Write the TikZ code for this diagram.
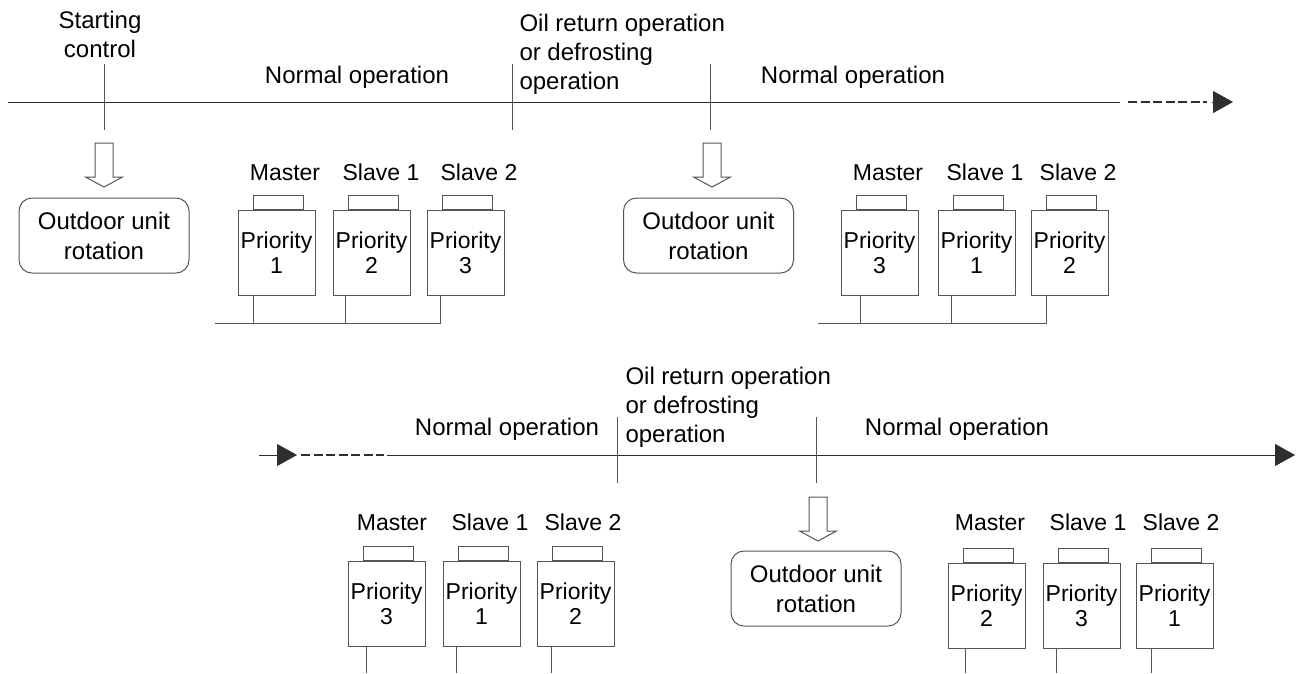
\documentclass[tikz,border=0pt]{standalone}
\usepackage{fontspec}
\setmainfont{Liberation Sans}
\usetikzlibrary{arrows.meta, positioning}
\definecolor{cline}{HTML}{2E2E2E}
\definecolor{cgrey}{HTML}{555555}
\tikzset{
  every picture/.style={line width=1pt},
  unitbox/.style={draw=cgrey, minimum width=77pt, minimum height=85pt, inner sep=0pt, align=center, font=\fontsize{23}{25}\selectfont},
  lid/.style={draw=cgrey, minimum width=50pt, minimum height=14pt, inner sep=0pt},
  ulabel/.style={anchor=base, inner sep=0pt, font=\fontsize{23}{27}\selectfont},
  rotbox/.style={draw=cgrey, rounded corners=13pt, minimum width=170pt, minimum height=75pt, inner sep=0pt, align=center, font=\fontsize{24}{30}\selectfont},
  phasetext/.style={inner sep=0pt, font=\fontsize{24}{29}\selectfont},
  headline/.style={-{Triangle[length=20pt, width=22pt]}, draw=cline},
  dashline/.style={draw=cline, line width=1.5pt, dash pattern=on 9pt off 3.5pt},
  hollowarrow/.style={draw=cgrey, fill=white, line join=miter},
}

\begin{document}
\begin{tikzpicture}[x=1pt, y=-1pt]
  \useasboundingbox (0,0) rectangle (1297,673);

  % phase texts
  \node[phasetext, align=center, anchor=south] (start) at (100,58) {Starting\\control};
  \node[phasetext, anchor=base] (norm1) at (357,83) {Normal operation};
  \node[phasetext, align=left, anchor=south west] (oil1) at (519,95) {Oil return operation\\or defrosting\\operation};
  \node[phasetext, anchor=base] (norm2) at (853,83) {Normal operation};
  \node[phasetext, anchor=base] (norm3) at (507,435) {Normal operation};
  \node[phasetext, align=left, anchor=south west] (oil2) at (625,448) {Oil return operation\\or defrosting\\operation};
  \node[phasetext, anchor=base] (norm4) at (957,435) {Normal operation};

  % upper time line
  \coordinate (ta) at (8,102);
  \coordinate (tb) at (1120,102);
  \coordinate (tc) at (1128,102);
  \coordinate (td) at (1207,102);
  \coordinate (te) at (1212,102);
  \coordinate (tf) at (1233,102);
  \draw[cline] (ta) -- (tb);
  \draw[dashline] (tc) -- (td);
  \draw[headline] (te) -- (tf);
  \coordinate (k1) at (104,64);
  \coordinate (k2) at (512,64);
  \coordinate (k3) at (710,64);
  \draw[cgrey] (k1) -- ++(0,66);
  \draw[cgrey] (k2) -- ++(0,66);
  \draw[cgrey] (k3) -- ++(0,66);

  % lower time line
  \coordinate (ba) at (259,455);
  \coordinate (bb) at (297,455);
  \coordinate (bc) at (301,455);
  \coordinate (bd) at (384,455);
  \coordinate (be) at (387,455);
  \coordinate (bf) at (1295,455);
  \draw[headline] (ba) -- (bb);
  \draw[dashline] (bc) -- (bd);
  \draw[headline] (be) -- (bf);
  \coordinate (k4) at (617,417);
  \coordinate (k5) at (816,417);
  \draw[cgrey] (k4) -- ++(0,66);
  \draw[cgrey] (k5) -- ++(0,66);

  % rotation steps
  \coordinate (h1) at (104,143);
  \coordinate (h2) at (712,143);
  \coordinate (h3) at (818,497);
  \draw[hollowarrow] (h1) ++(-9,0) -- ++(0,34) -- ++(-9.5,0) -- ++(18.5,10) -- ++(18.5,-10) -- ++(-9.5,0) -- ++(0,-34) -- cycle;
  \draw[hollowarrow] (h2) ++(-9,0) -- ++(0,34) -- ++(-9.5,0) -- ++(18.5,10) -- ++(18.5,-10) -- ++(-9.5,0) -- ++(0,-34) -- cycle;
  \draw[hollowarrow] (h3) ++(-9,0) -- ++(0,34) -- ++(-9.5,0) -- ++(18.5,10) -- ++(18.5,-10) -- ++(-9.5,0) -- ++(0,-34) -- cycle;
  \node[rotbox] (rot1) at (104,235.5) {Outdoor unit\\rotation};
  \node[rotbox] (rot2) at (708.5,235.5) {Outdoor unit\\rotation};
  \node[rotbox] (rot3) at (816,588.5) {Outdoor unit\\rotation};

  % units, first normal operation
  \node[unitbox] (a1) at (276.5,252.5) {Priority\\1};
  \node[unitbox] (a2) at (371.5,252.5) {Priority\\2};
  \node[unitbox] (a3) at (465.5,252.5) {Priority\\3};
  \node[lid, above=0pt of a1, xshift=1.5pt] (a1l) {};
  \node[lid, above=0pt of a2, xshift=1.5pt] (a2l) {};
  \node[lid, above=0pt of a3, xshift=1.5pt] (a3l) {};
  \node[ulabel] (a1t) at (285,180) {Master};
  \node[ulabel] (a2t) at (381,180) {Slave 1};
  \node[ulabel] (a3t) at (479,180) {Slave 2};
  \coordinate (busA) at (215,323);
  \coordinate (sa1) at ([xshift=16pt]a1.south west);
  \coordinate (sa2) at ([xshift=13pt]a2.south west);
  \coordinate (sa3) at ([xshift=14pt]a3.south west);
  \draw[cgrey] (sa1) -- (sa1 |- busA);
  \draw[cgrey] (sa2) -- (sa2 |- busA);
  \draw[cgrey] (sa3) -- (sa3 |- busA);
  \draw[cgrey] (busA) -- (busA -| sa3);

  % units, second normal operation
  \node[unitbox] (b1) at (879.5,252.5) {Priority\\3};
  \node[unitbox] (b2) at (976.5,252.5) {Priority\\1};
  \node[unitbox] (b3) at (1069.5,252.5) {Priority\\2};
  \node[lid, above=0pt of b1, xshift=1.5pt] (b1l) {};
  \node[lid, above=0pt of b2, xshift=1.5pt] (b2l) {};
  \node[lid, above=0pt of b3, xshift=1.5pt] (b3l) {};
  \node[ulabel] (b1t) at (888,180) {Master};
  \node[ulabel] (b2t) at (985,180) {Slave 1};
  \node[ulabel] (b3t) at (1078,180) {Slave 2};
  \coordinate (busB) at (818,323);
  \coordinate (sb1) at ([xshift=20pt]b1.south west);
  \coordinate (sb2) at ([xshift=14pt]b2.south west);
  \coordinate (sb3) at ([xshift=16pt]b3.south west);
  \draw[cgrey] (sb1) -- (sb1 |- busB);
  \draw[cgrey] (sb2) -- (sb2 |- busB);
  \draw[cgrey] (sb3) -- (sb3 |- busB);
  \draw[cgrey] (busB) -- (busB -| sb3);

  % units, lower line
  \coordinate (edge) at (0,673);
  \node[unitbox] (c1) at (386.5,603.5) {Priority\\3};
  \node[unitbox] (c2) at (481.5,603.5) {Priority\\1};
  \node[unitbox] (c3) at (575.5,603.5) {Priority\\2};
  \node[lid, above=0pt of c1, xshift=1.5pt] (c1l) {};
  \node[lid, above=0pt of c2, xshift=1.5pt] (c2l) {};
  \node[lid, above=0pt of c3, xshift=1.5pt] (c3l) {};
  \node[ulabel] (c1t) at (392,530) {Master};
  \node[ulabel] (c2t) at (490,530) {Slave 1};
  \node[ulabel] (c3t) at (583,530) {Slave 2};
  \coordinate (sc1) at ([xshift=19pt]c1.south west);
  \coordinate (sc2) at ([xshift=14pt]c2.south west);
  \coordinate (sc3) at ([xshift=15pt]c3.south west);
  \draw[cgrey] (sc1) -- (sc1 |- edge);
  \draw[cgrey] (sc2) -- (sc2 |- edge);
  \draw[cgrey] (sc3) -- (sc3 |- edge);

  \node[unitbox] (d1) at (986.5,605.5) {Priority\\2};
  \node[unitbox] (d2) at (1081.5,605.5) {Priority\\3};
  \node[unitbox] (d3) at (1174.5,605.5) {Priority\\1};
  \node[lid, above=0pt of d1, xshift=1.5pt] (d1l) {};
  \node[lid, above=0pt of d2, xshift=1.5pt] (d2l) {};
  \node[lid, above=0pt of d3, xshift=1.5pt] (d3l) {};
  \node[ulabel] (d1t) at (990,530) {Master};
  \node[ulabel] (d2t) at (1088,530) {Slave 1};
  \node[ulabel] (d3t) at (1181,530) {Slave 2};
  \coordinate (sd1) at ([xshift=18pt]d1.south west);
  \coordinate (sd2) at ([xshift=14pt]d2.south west);
  \coordinate (sd3) at ([xshift=16pt]d3.south west);
  \draw[cgrey] (sd1) -- (sd1 |- edge);
  \draw[cgrey] (sd2) -- (sd2 |- edge);
  \draw[cgrey] (sd3) -- (sd3 |- edge);
\end{tikzpicture}
\end{document}
